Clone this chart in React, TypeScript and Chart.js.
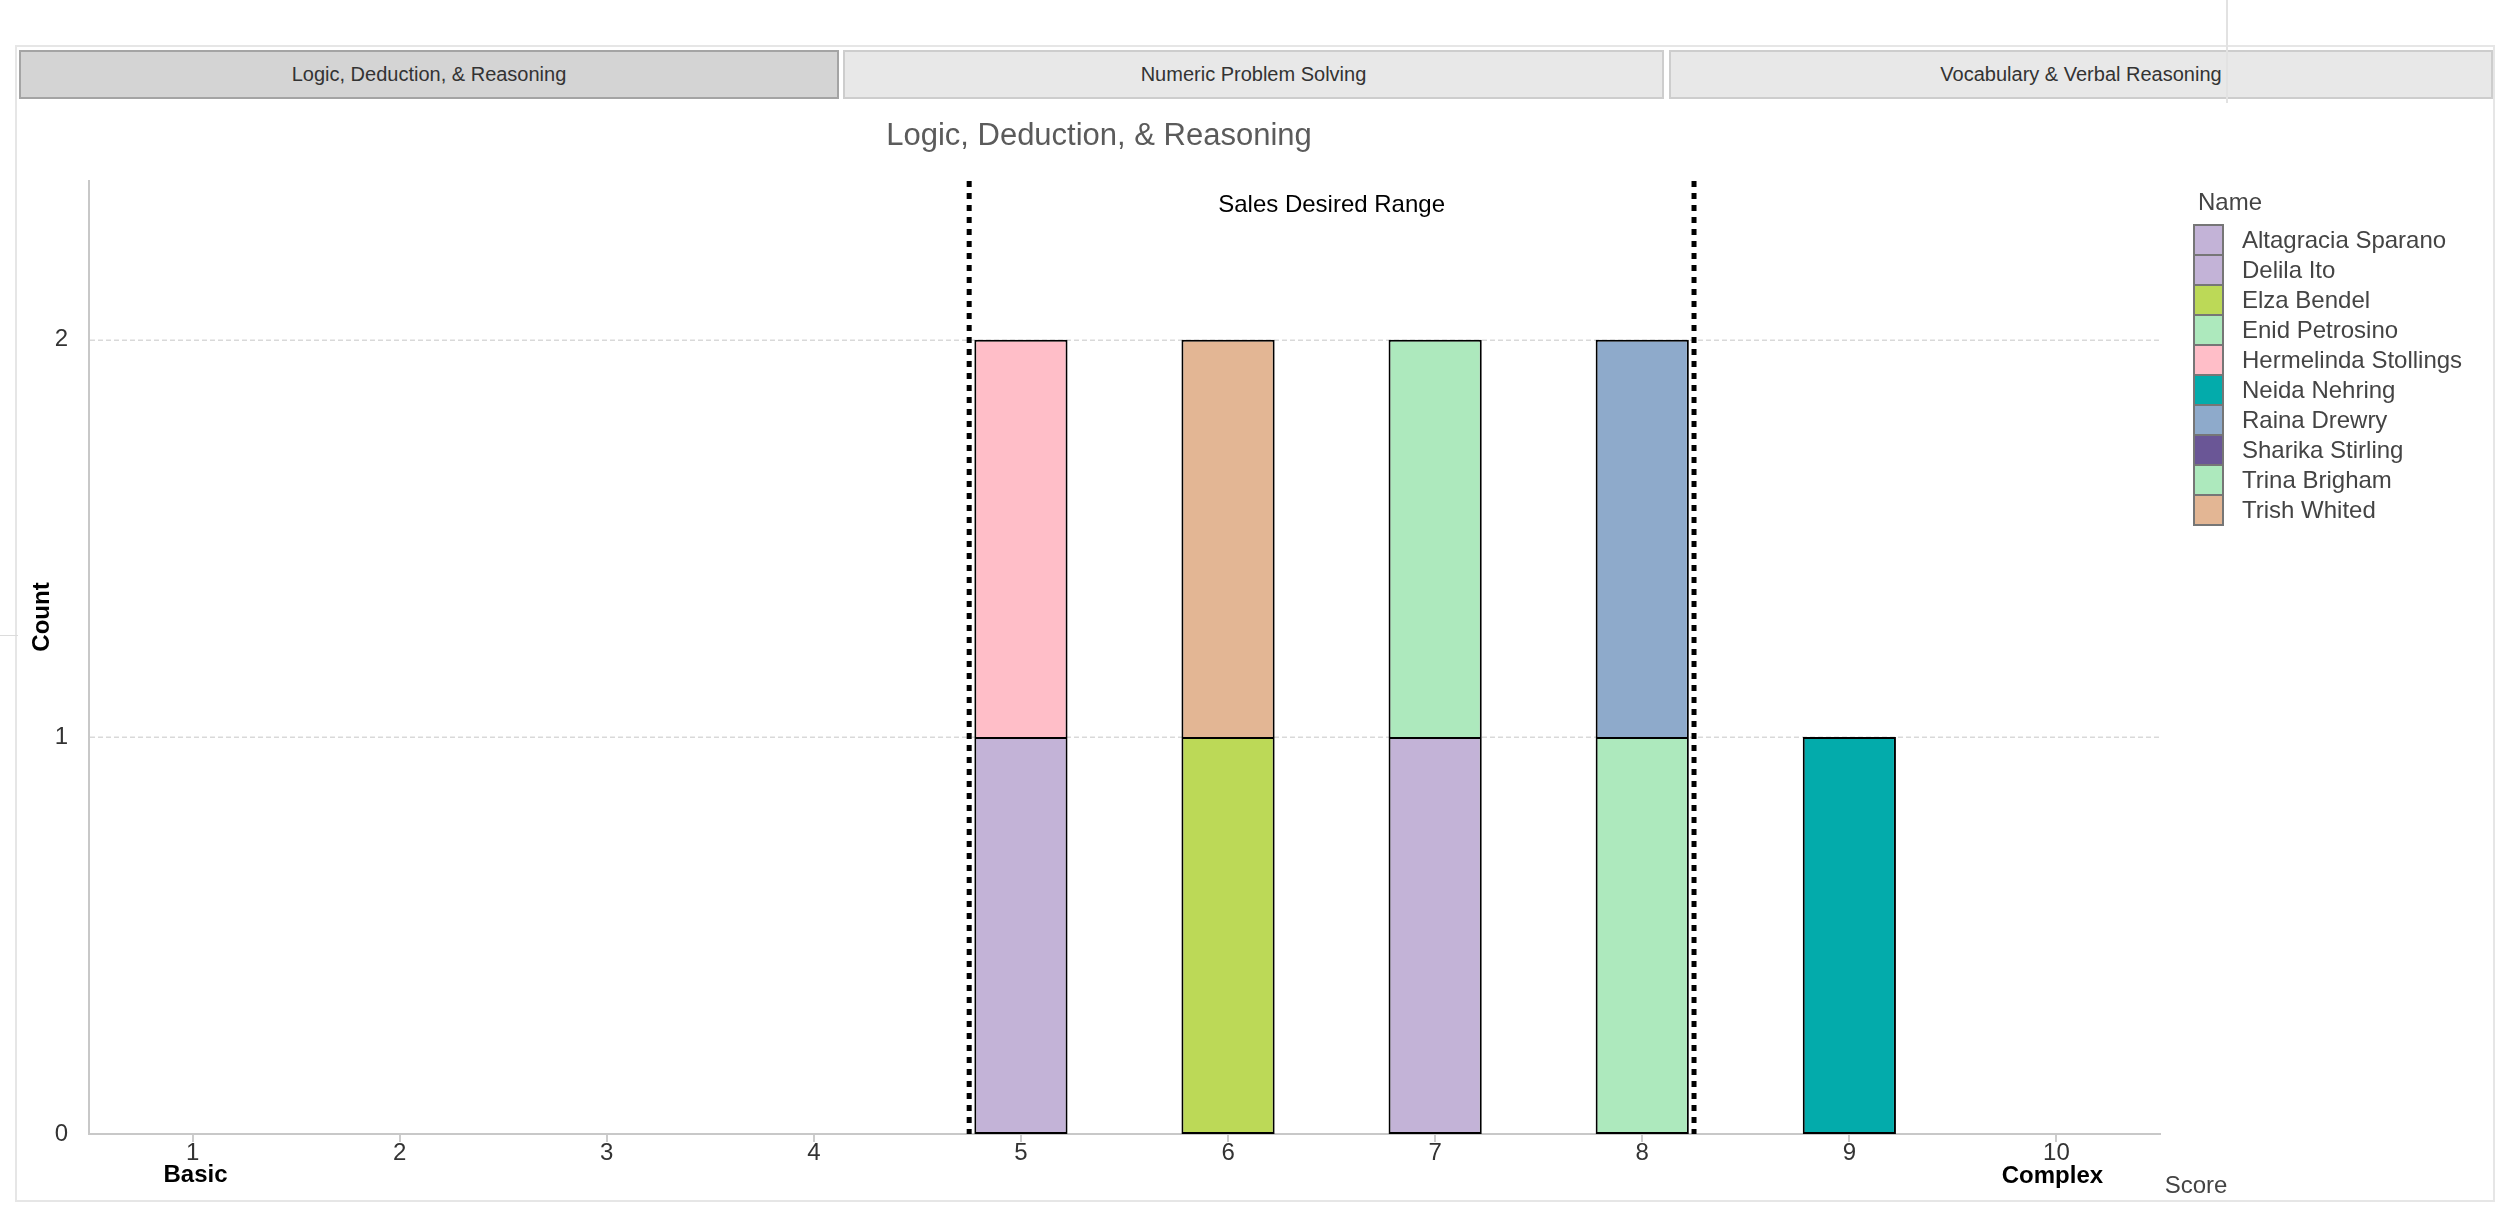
import React, { useEffect, useRef } from "react";
import { Chart, registerables } from "chart.js";

Chart.register(...registerables);

const tabLabels = ["Logic, Deduction, & Reasoning", "Numeric Problem Solving", "Vocabulary & Verbal Reasoning"];
const chartTitle = "Logic, Deduction, & Reasoning";
const scoreLabels = ["1", "2", "3", "4", "5", "6", "7", "8", "9", "10"];
const yTickValues = [0, 1, 2];
const yMax = 2.4;
const names = [
  "Altagracia Sparano",
  "Delila Ito",
  "Elza Bendel",
  "Enid Petrosino",
  "Hermelinda Stollings",
  "Neida Nehring",
  "Raina Drewry",
  "Sharika Stirling",
  "Trina Brigham",
  "Trish Whited",
];
const nameColors = ["#c3b3d7", "#c3b3d7", "#bcd957", "#ade9bd", "#ffbec8", "#03abab", "#8eaacb", "#6a5696", "#ade9bd", "#e3b694"];
const nameScores: (number | null)[] = [5, 7, 6, 8, 5, 9, 8, null, 7, 6];
const desiredRange = [4.75, 8.25];
const desiredRangeLabel = "Sales Desired Range";
const endLabels = ["Basic", "Complex"];
const xAxisTitle = "Score";
const yAxisTitle = "Count";
const legendTitle = "Name";

const FONT = "'Liberation Sans', Arial, sans-serif";

const seriesData = names.map((_, i) => scoreLabels.map((s) => (Number(s) === nameScores[i] ? 1 : null)));

function firstDatasetAt(dataIndex: number) {
  for (let d = 0; d < seriesData.length; d++) {
    if (seriesData[d][dataIndex] !== null) return d;
  }
  return -1;
}

const overlayPlugin = {
  id: "overlay",
  beforeDatasetsDraw(chart: any) {
    const { ctx, chartArea, scales } = chart;
    const y = scales.y;
    ctx.save();
    ctx.strokeStyle = "#d9d9d9";
    ctx.lineWidth = 1.5;
    ctx.setLineDash([5, 3]);
    yTickValues.forEach((v) => {
      if (v === 0) return;
      const py = Math.round(y.getPixelForValue(v)) + 0.25;
      ctx.beginPath();
      ctx.moveTo(chartArea.left + 1, py);
      ctx.lineTo(chartArea.right, py);
      ctx.stroke();
    });
    ctx.restore();
  },
  afterDatasetsDraw(chart: any) {
    const { ctx, chartArea, scales } = chart;
    const x = scales.x;
    ctx.save();
    ctx.strokeStyle = "#000";
    ctx.lineWidth = 5;
    ctx.setLineDash([6, 6]);
    const pxs = desiredRange.map((v) => x.getPixelForValue(v - 1));
    pxs.forEach((px: number) => {
      ctx.beginPath();
      ctx.moveTo(px, chartArea.top);
      ctx.lineTo(px, chartArea.bottom);
      ctx.stroke();
    });
    ctx.setLineDash([]);
    ctx.fillStyle = "#000";
    ctx.font = `24px ${FONT}`;
    ctx.textAlign = "center";
    ctx.textBaseline = "middle";
    ctx.fillText(desiredRangeLabel, (pxs[0] + pxs[1]) / 2, chartArea.top + 24);
    ctx.restore();
  },
  afterDraw(chart: any) {
    const { ctx, scales } = chart;
    const x = scales.x;
    ctx.save();
    // title
    ctx.fillStyle = "#5b5b5b";
    ctx.font = `31px ${FONT}`;
    ctx.textAlign = "center";
    ctx.textBaseline = "middle";
    ctx.fillText(chartTitle, 1082, 36);

    // y axis title
    ctx.save();
    ctx.translate(25, 517);
    ctx.rotate(-Math.PI / 2);
    ctx.fillStyle = "#000";
    ctx.font = `bold 24px ${FONT}`;
    ctx.fillText(yAxisTitle, 0, 0);
    ctx.restore();

    // end labels
    ctx.fillStyle = "#000";
    ctx.font = `bold 24px ${FONT}`;
    ctx.fillText(endLabels[0], x.getPixelForValue(0) + 3, 1075);
    ctx.fillText(endLabels[1], x.getPixelForValue(scoreLabels.length - 1) - 4, 1076);

    // x axis title
    ctx.fillStyle = "#444";
    ctx.font = `24px ${FONT}`;
    ctx.fillText(xAxisTitle, 2179, 1086);

    // legend
    const lx = 2176;
    const ly = 125;
    const bw = 31;
    const bh = 30;
    ctx.textAlign = "left";
    ctx.fillStyle = "#444";
    ctx.font = `24px ${FONT}`;
    ctx.fillText(legendTitle, 2181, 103);
    names.forEach((n, i) => {
      const y = ly + i * bh;
      ctx.fillStyle = nameColors[i];
      ctx.fillRect(lx, y, bw, bh);
    });
    ctx.strokeStyle = "#767676";
    ctx.lineWidth = 2;
    names.forEach((n, i) => {
      const y = ly + i * bh;
      ctx.strokeRect(lx + 1, y, bw - 2, bh);
    });
    ctx.fillStyle = "#444";
    names.forEach((n, i) => {
      ctx.fillText(n, 2225, ly + i * bh + bh / 2 + 1);
    });
    ctx.restore();
  },
};

function ChartView() {
  const ref = useRef<HTMLCanvasElement | null>(null);
  useEffect(() => {
    if (!ref.current) return;
    Chart.defaults.font.family = FONT;
    const chart = new Chart(ref.current, {
      type: "bar",
      data: {
        labels: scoreLabels,
        datasets: names.map((n, i) => ({
          label: n,
          data: seriesData[i],
          backgroundColor: nameColors[i],
          borderColor: "#000",
          borderWidth: 2,
          borderSkipped: ((ctx: any) => (ctx.datasetIndex === firstDatasetAt(ctx.dataIndex) ? false : "start")) as any,
          categoryPercentage: 1,
          barPercentage: 0.45,
        })),
      },
      options: {
        animation: false,
        responsive: true,
        maintainAspectRatio: false,
        layout: { padding: { left: 0, top: 81, right: 332, bottom: 0 } },
        plugins: {
          legend: { display: false },
          title: { display: false },
          tooltip: { enabled: false },
        },
        scales: {
          x: {
            stacked: true,
            offset: true,
            afterFit: (scale: any) => {
              scale.height = 66;
            },
            grid: {
              display: true,
              drawOnChartArea: false,
              drawTicks: true,
              tickLength: 8,
              offset: false,
              color: "#cccccc",
              lineWidth: 2,
            },
            border: { display: true, color: "#c8c8c8", width: 2 },
            ticks: {
              color: "#333",
              font: { size: 24, lineHeight: 1 },
              padding: -1,
              maxRotation: 0,
              autoSkip: false,
            },
          },
          y: {
            stacked: true,
            min: 0,
            max: yMax,
            afterFit: (scale: any) => {
              scale.width = 72;
            },
            afterBuildTicks: (scale: any) => {
              scale.ticks = yTickValues.map((v) => ({ value: v }));
            },
            grid: {
              display: false,
              drawTicks: false,
            },
            border: { display: true, color: "#c8c8c8", width: 2 },
            ticks: {
              color: "#333",
              font: { size: 24, lineHeight: 1 },
              padding: 21,
            },
          },
        },
      },
      plugins: [overlayPlugin],
    });
    return () => chart.destroy();
  }, []);
  return <canvas ref={ref} />;
}

const tabBoxes = [
  { left: 19, width: 820, active: true },
  { left: 843, width: 821, active: false },
  { left: 1669, width: 824, active: false },
];

export default function App() {
  return (
    <div style={{ position: "fixed", left: 0, top: 0, width: 2516, height: 1228, background: "#fff", overflow: "hidden", fontFamily: FONT }}>
      <div
        style={{
          position: "absolute",
          left: 15,
          top: 45,
          width: 2480,
          height: 1157,
          border: "2px solid #e6e6e6",
          boxSizing: "border-box",
        }}
      />
      {tabLabels.map((t, i) => (
        <div
          key={t}
          style={{
            position: "absolute",
            left: tabBoxes[i].left,
            top: 50,
            width: tabBoxes[i].width,
            height: 49,
            boxSizing: "border-box",
            background: tabBoxes[i].active ? "#d4d4d4" : "#e8e8e8",
            border: tabBoxes[i].active ? "2px solid #a4a4a4" : "2px solid #cdcdcd",
            color: "#333",
            fontSize: 20,
            lineHeight: "45px",
            textAlign: "center",
            whiteSpace: "nowrap",
          }}
        >
          {t}
        </div>
      ))}
      <div style={{ position: "absolute", left: 2226, top: 0, width: 2, height: 103, background: "#e2e2e2" }} />
      <div style={{ position: "absolute", left: 0, top: 635, width: 18, height: 1, background: "#dcdcdc" }} />
      <div style={{ position: "absolute", left: 17, top: 100, width: 2475, height: 1100 }}>
        <ChartView />
      </div>
    </div>
  );
}
